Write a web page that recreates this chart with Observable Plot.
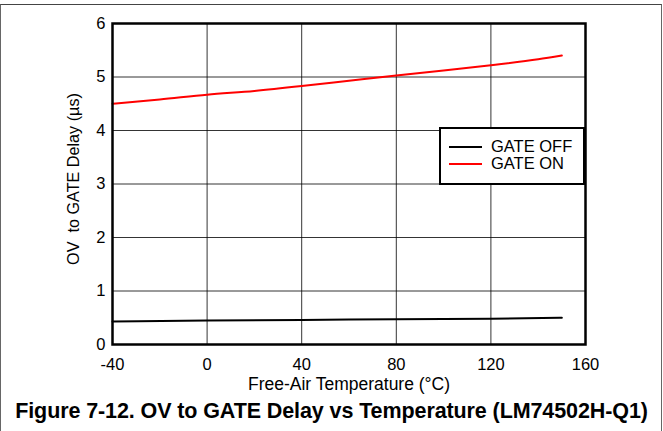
<!DOCTYPE html>
<html><head><meta charset="utf-8">
<script src="https://cdn.jsdelivr.net/npm/d3@7"></script>
<script src="https://cdn.jsdelivr.net/npm/@observablehq/plot@0.6"></script>
<style>
html,body{margin:0;padding:0;background:#fff;}
#page{position:relative;width:663px;height:431px;overflow:hidden;font-family:"Liberation Sans",Arial,sans-serif;}
#border{position:absolute;left:0;top:4px;width:662px;height:440px;border-top:1.5px solid #444;border-left:1.5px solid #666;border-right:1.5px solid #666;box-sizing:border-box;}
#chart{position:absolute;left:0;top:0;}
#legend{position:absolute;left:439px;top:127px;width:146px;height:58px;border:2px solid #000;background:#fff;box-sizing:border-box;font-size:16.5px;}
.row{position:absolute;left:8px;height:15px;display:flex;align-items:center;line-height:15px;}
.sw{display:inline-block;width:33px;height:2px;margin-right:9px;}
#caption{position:absolute;left:0;width:663px;top:399px;text-align:center;font-weight:bold;font-size:21.5px;letter-spacing:-0.1px;}
</style></head>
<body><div id="page"><div id="border"></div><div id="chart"></div>
<div id="legend"></div>
<div id="caption">Figure 7-12. OV to GATE Delay vs Temperature (LM74502H-Q1)</div></div>
<script>
const seriesNames = ["GATE OFF", "GATE ON"];
const seriesColors = ["#000000", "#ff0000"];
const tempOff = [-40, 0, 40, 80, 120, 150];
const delayOff = [0.43, 0.45, 0.46, 0.47, 0.48, 0.50];
const tempOn = [-40, -20, 0, 20, 40, 60, 80, 100, 120, 140, 150];
const delayOn = [4.50, 4.58, 4.67, 4.74, 4.83, 4.93, 5.03, 5.12, 5.22, 5.33, 5.40];
const xTicks = [-40, 0, 40, 80, 120, 160];
const yTicks = [0, 1, 2, 3, 4, 5, 6];

const data = [
  ...tempOff.map((t, i) => ({series: seriesNames[0], t, d: delayOff[i]})),
  ...tempOn.map((t, i) => ({series: seriesNames[1], t, d: delayOn[i]}))
];

const chart = Plot.plot({
  width: 663, height: 395,
  marginLeft: 112, marginRight: 78, marginTop: 23, marginBottom: 51,
  style: {fontFamily: '"Liberation Sans", Arial, sans-serif', fontSize: "16.5px", color: "#000", background: "transparent"},
  x: {domain: [-40, 160]},
  y: {domain: [0, 6]},
  color: {domain: seriesNames, range: seriesColors},
  marks: [
    Plot.gridX(xTicks, {stroke: "#000", strokeOpacity: 1, strokeWidth: 0.8}),
    Plot.gridY(yTicks, {stroke: "#000", strokeOpacity: 1, strokeWidth: 0.8}),
    Plot.axisX(xTicks, {tickSize: 0, tickPadding: 14, label: null, tickFormat: d => String(d)}),
    Plot.text(["Free-Air Temperature (°C)"], {frameAnchor: "bottom", text: d => d, dy: 45, fontSize: 17.5, fill: "#000", textAnchor: "middle"}),
    Plot.axisY(yTicks, {tickSize: 0, tickPadding: 7, label: null, tickFormat: d => String(d)}),
    Plot.text(["OV  to GATE Delay (µs)"], {frameAnchor: "left", text: d => d, rotate: -90, textAnchor: "middle", dx: -39, dy: -5, fontSize: 16.2, fill: "#000"}),
    Plot.line(data, {x: "t", y: "d", z: "series", stroke: "series", strokeWidth: 2, curve: "monotone-x"}),
    Plot.frame({stroke: "#000", strokeWidth: 2.5})
  ]
});
document.getElementById("chart").appendChild(chart);

const legend = document.getElementById("legend");
seriesNames.forEach((n, i) => {
  const r = document.createElement("div");
  r.className = "row";
  r.style.top = (10 + i * 17) + "px";
  r.innerHTML = `<span class="sw" style="background:${seriesColors[i]}"></span><span>${n}</span>`;
  legend.appendChild(r);
});
</script></body></html>
